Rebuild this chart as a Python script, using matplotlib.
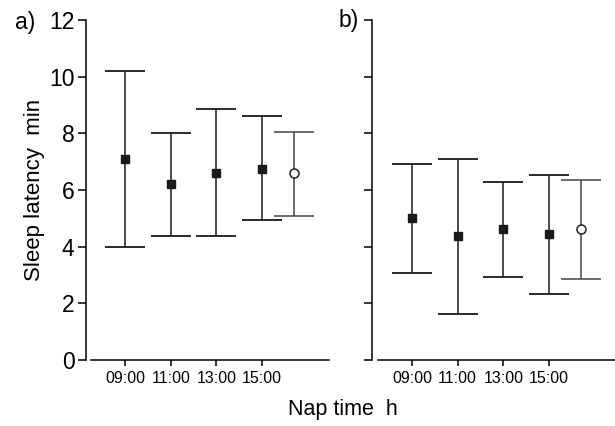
import numpy as np
import matplotlib.pyplot as plt

# nap times (squares) + overall mean (open circle)
times = ['09:00', '11:00', '13:00', '15:00']

# panel a)
a_mean = [7.08, 6.20, 6.59, 6.75]
a_low = [4.00, 4.39, 4.38, 4.93]
a_high = [10.20, 8.02, 8.85, 8.61]
a_all = [6.59, 5.08, 8.05]   # mean, low, high

# panel b)
b_mean = [5.02, 4.37, 4.62, 4.44]
b_low = [3.08, 1.61, 2.94, 2.32]
b_high = [6.93, 7.09, 6.29, 6.52]
b_all = [4.62, 2.87, 6.36]

plt.rcParams['font.family'] = ['Liberation Sans Narrow', 'Liberation Sans', 'DejaVu Sans']

fig = plt.figure(figsize=(6.15, 4.26), dpi=100)
W, H = 615., 426.
unit = 45.7
bottom = (H - 360) / H
height = 340 / H


def panel(ax, mean, low, high, allv, show_labels):
    x = np.arange(len(mean))
    mean = np.array(mean)
    yerr = [mean - np.array(low), np.array(high) - mean]
    ax.errorbar(x, mean, yerr=yerr, fmt='s', color='#1a1a1a', ms=6,
                capsize=14.4, elinewidth=1.1, capthick=1.3, lw=1.1)
    m, lo, hi = allv
    ax.errorbar([3.7], [m], yerr=[[m - lo], [hi - m]], fmt='o', color='#444444',
                mfc='white', mec='#222222', ms=6.5, mew=1.1,
                capsize=14.4, elinewidth=1.1, capthick=1.3)
    ax.set_ylim(0, 12)
    ax.set_yticks(range(0, 13, 2))
    ax.set_xticks(x)
    ax.set_xticklabels(times, fontsize=11.5)
    ax.spines[['top', 'right']].set_visible(False)
    ax.spines['bottom'].set_bounds(-0.74, 4.46)
    ax.spines['left'].set_bounds(0, 12)
    for s in ['left', 'bottom']:
        ax.spines[s].set_linewidth(1.1)
    ax.tick_params(axis='y', length=6, width=1.1, pad=2, labelsize=16.5)
    ax.tick_params(axis='x', length=4, width=1.1, pad=4)
    if not show_labels:
        ax.set_yticklabels([])


# panel a) axes: y spine at x=85.7px, x=0 at 125px
ax1 = fig.add_axes([85.7 / W, bottom, (5.31 * unit) / W, height])
ax1.set_xlim(-0.86, 4.45)
panel(ax1, a_mean, a_low, a_high, a_all, True)
ax1.set_ylabel('Sleep latency  min', fontsize=16, labelpad=3)

# panel b) axes: y spine at x=371.7px, x=0 at 412px
ax2 = fig.add_axes([371.7 / W, bottom, (5.32 * unit) / W, height])
ax2.set_xlim(-0.88, 4.44)
panel(ax2, b_mean, b_low, b_high, b_all, False)

fig.text(15 / W, 1 - 22 / H, 'a)', fontsize=16.5, va='center', ha='left')
fig.text(339 / W, 1 - 21 / H, 'b)', fontsize=16.5, va='center', ha='left')
fig.text(343 / W, 1 - 410 / H, 'Nap time  h', fontsize=15.5, va='center', ha='center')

fig.savefig('out.png', dpi=100)
